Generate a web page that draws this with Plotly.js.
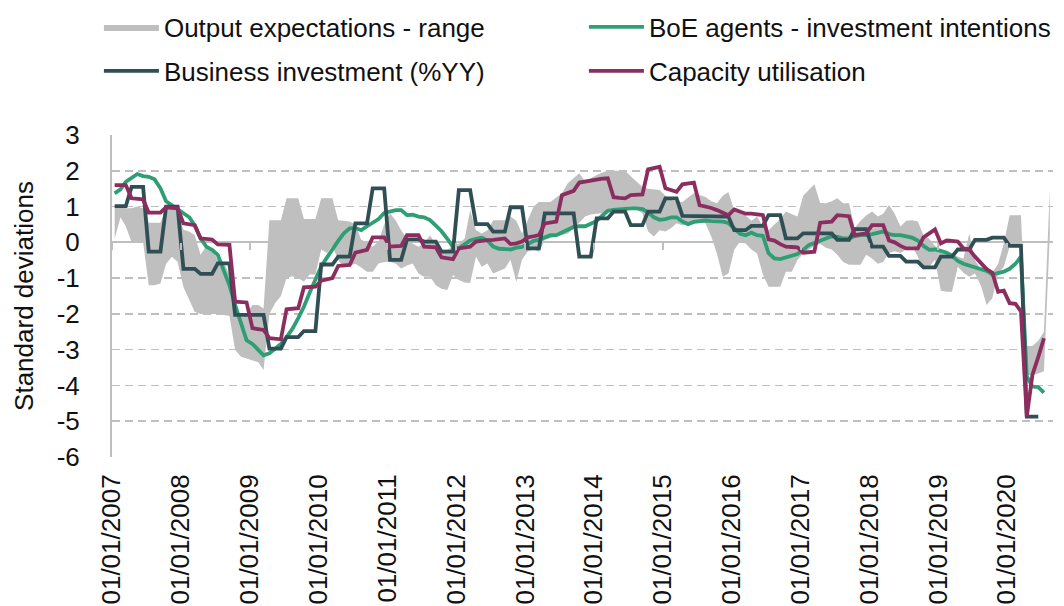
<!DOCTYPE html>
<html><head><meta charset="utf-8">
<script src="https://cdn.plot.ly/plotly-3.0.1.min.js"></script>
<style>html,body{margin:0;padding:0;background:#fff;} #chart{width:1064px;height:606px;}</style>
</head><body><div id="chart"></div>
<script>
// Monthly data, first value = January 2007
const startYear = 2007;
const seriesNames = ["Output expectations - range", "BoE agents - investment intentions", "Business investment (%YY)", "Capacity utilisation"];
const yTickValues = [3,2,1,0,-1,-2,-3,-4,-5,-6];

const rangeUpper = [
0.95,1.0,0.95,0.95,1.0,0.95,0.55,0.55,0.55,0.95,0.95,0.9,
0.35,0.3,0.2,-0.35,-0.1,-0.2,-0.5,-0.55,-0.9,-1.8,-2.1,-2.0,
-1.75,-1.75,-1.85,0.62,0.62,0.62,1.23,1.23,1.23,0.65,0.65,0.65,
1.23,1.23,1.23,0.62,0.6,0.58,0.5,0.07,0.0,-0.12,0.02,0.5,
0.81,0.6,0.34,0.1,-0.03,-0.12,-0.03,0.2,-0.07,-0.21,-0.21,-0.1,
-0.03,0.11,0.9,0.34,0.25,0.34,0.62,0.62,0.62,0.72,0.6,0.25,
0.62,1.0,1.13,1.13,1.13,1.25,1.37,1.65,1.8,1.93,1.7,1.8,
1.88,1.95,2.0,2.0,2.0,2.0,1.85,1.69,1.55,1.5,1.48,1.46,
1.3,1.18,1.15,1.13,1.25,1.37,1.32,1.27,1.15,1.09,1.3,1.41,
0.9,0.81,0.75,0.6,0.72,0.45,0.34,0.5,0.65,0.86,0.8,0.72,
1.3,1.46,1.62,1.1,1.09,1.15,1.23,1.09,1.09,0.4,0.6,0.75,
0.86,0.72,0.8,1.04,0.8,0.44,0.6,0.62,0.58,0.2,0.1,-0.1,
-0.2,-0.25,-0.3,-0.4,-0.45,0.25,-0.5,-0.75,-0.8,-0.85,-0.6,-0.03,
0.76,0.76,0.76,-2.9,-2.9,-2.75,-2.5,1.46];

const rangeLower = [
0.1,0.7,0.45,0.0,0.0,0.0,-1.2,-1.2,-1.15,-0.6,-0.4,-0.55,
-1.25,-1.6,-1.95,-2.0,-2.0,-2.0,-2.0,-2.03,-2.05,-3.0,-3.2,-3.25,
-3.3,-3.35,-3.57,-2.0,-1.7,-1.5,-1.0,-0.95,-1.0,-1.1,-0.9,-0.9,
-0.2,-0.3,-0.1,-0.5,-0.7,-0.65,-0.6,-0.7,-0.82,-0.82,-0.59,-0.55,
-0.54,-0.6,-0.73,-0.65,-0.59,-0.87,-0.96,-0.96,-1.2,-1.3,-1.33,-0.91,
-1.05,-1.12,-1.14,-0.4,-0.68,-0.59,-0.87,-0.8,-0.73,-0.49,-1.1,-0.49,
-0.25,-0.21,-0.26,0.07,0.12,0.16,0.2,0.25,0.39,0.55,0.72,0.78,
0.8,0.81,0.85,0.9,0.95,0.98,1.0,0.9,0.81,0.3,0.16,0.34,
0.3,0.4,0.53,0.48,0.52,0.58,0.55,0.53,0.16,-0.31,-0.96,-0.87,
-0.21,0.02,-0.03,-0.2,-0.31,-0.9,-1.24,-1.24,-1.24,-0.82,-0.82,-0.5,
-0.31,-0.2,-0.1,-0.05,-0.15,-0.2,-0.35,-0.55,-0.63,-0.63,-0.63,-0.35,
-0.45,-0.6,-0.55,-0.3,-0.25,-0.3,-0.21,-0.1,-0.4,-0.77,-0.68,-0.49,
-1.35,-1.38,-1.38,-0.68,-0.85,-0.96,-0.87,-1.2,-1.75,-1.56,-0.87,-0.68,
-0.12,-0.12,-0.12,-3.7,-3.72,-3.66,-3.6,0.2];

const boeAgents = [
1.37,1.48,1.69,1.79,1.91,1.85,1.83,1.76,1.51,1.15,1.03,0.92,
0.8,0.7,0.47,0.11,-0.12,-0.21,-0.35,-0.75,-1.2,-1.75,-2.26,-2.74,
-2.84,-3.02,-3.16,-3.1,-2.98,-2.84,-2.65,-2.42,-2.12,-1.8,-1.4,-1.05,
-0.67,-0.42,-0.19,0.04,0.25,0.39,0.4,0.34,0.45,0.55,0.65,0.82,
0.87,0.9,0.9,0.76,0.77,0.72,0.7,0.62,0.47,0.31,0.1,-0.13,
-0.17,-0.07,0.05,0.1,0.13,0.05,-0.12,-0.18,-0.2,-0.2,-0.15,-0.13,
-0.05,0.04,0.07,0.15,0.2,0.2,0.28,0.36,0.43,0.45,0.45,0.52,
0.6,0.75,0.88,0.91,0.93,0.95,0.95,0.95,0.93,0.84,0.7,0.63,
0.65,0.7,0.7,0.58,0.51,0.57,0.6,0.61,0.59,0.58,0.58,0.54,
0.4,0.24,0.2,0.27,0.2,0.18,-0.3,-0.45,-0.47,-0.42,-0.39,-0.33,
-0.21,-0.07,-0.02,0.05,0.12,0.17,0.15,0.11,0.11,0.17,0.2,0.2,
0.23,0.27,0.3,0.23,0.2,0.2,0.17,0.13,0.05,-0.1,-0.21,-0.2,
-0.24,-0.29,-0.38,-0.52,-0.6,-0.65,-0.7,-0.74,-0.8,-0.9,-0.85,-0.82,
-0.74,-0.6,-0.4,-3.75,-4.03,-4.05,-4.2];

const businessInvestment = [
1.01,1.01,1.01,1.55,1.55,1.55,-0.26,-0.26,-0.26,1.0,1.0,1.0,
-0.74,-0.74,-0.74,-0.88,-0.88,-0.88,-0.59,-0.59,-0.59,-2.03,-2.03,-2.03,
-2.03,-2.03,-2.03,-2.97,-2.97,-2.97,-2.65,-2.65,-2.65,-2.48,-2.48,-2.48,
-0.62,-0.62,-0.62,-0.4,-0.4,-0.4,0.53,0.53,0.53,1.51,1.51,1.51,
-0.49,-0.49,-0.49,0.08,0.08,0.08,0.02,0.02,0.02,-0.26,-0.26,-0.26,
1.46,1.46,1.46,0.51,0.51,0.51,0.3,0.3,0.3,0.98,0.98,0.98,
-0.17,-0.17,-0.17,0.81,0.81,0.81,0.81,0.81,0.81,-0.4,-0.4,-0.4,
0.67,0.67,0.67,0.86,0.86,0.86,0.48,0.48,0.48,0.86,0.86,0.86,
1.23,1.23,1.23,0.74,0.74,0.74,0.73,0.73,0.73,0.72,0.72,0.72,
0.34,0.34,0.34,0.46,0.46,0.46,0.76,0.76,0.76,0.11,0.11,0.11,
0.25,0.25,0.25,0.25,0.25,0.25,0.07,0.07,0.07,0.37,0.37,0.37,
-0.12,-0.12,-0.12,-0.38,-0.38,-0.38,-0.54,-0.54,-0.54,-0.7,-0.7,-0.7,
-0.4,-0.4,-0.4,-0.2,-0.2,-0.2,0.07,0.07,0.07,0.13,0.13,0.13,
-0.1,-0.1,-0.1,-4.87,-4.87,-4.87];

const capacityUtilisation = [
1.6,1.6,1.6,1.23,1.22,1.2,0.83,0.83,0.83,0.98,0.97,0.95,
0.53,0.5,0.48,0.11,0.1,0.08,-0.06,-0.06,-0.07,-1.66,-1.67,-1.68,
-2.4,-2.43,-2.45,-2.68,-2.7,-2.71,-1.87,-1.85,-1.84,-1.26,-1.25,-1.24,
-1.07,-1.03,-1.0,-0.66,-0.65,-0.63,-0.29,-0.25,-0.21,0.14,0.14,0.14,
-0.12,-0.11,-0.1,0.2,0.2,0.2,-0.12,-0.13,-0.14,-0.42,-0.45,-0.47,
-0.17,-0.15,-0.12,0.02,0.05,0.06,0.07,0.1,0.11,-0.05,-0.03,0.02,
0.14,0.17,0.2,0.53,0.55,0.58,1.32,1.38,1.44,1.67,1.7,1.74,
1.76,1.78,1.79,1.26,1.24,1.23,1.32,1.33,1.34,2.04,2.08,2.11,
1.51,1.45,1.41,1.62,1.65,1.67,1.04,1.01,0.96,0.9,0.83,0.76,
0.92,0.85,0.8,0.8,0.78,0.76,0.08,0.05,-0.05,-0.12,-0.13,-0.14,
-0.29,-0.27,-0.26,0.55,0.56,0.58,0.76,0.75,0.73,0.2,0.22,0.25,
0.48,0.48,0.48,0.05,0.0,-0.1,-0.17,-0.17,-0.17,0.14,0.25,0.36,
-0.03,0.05,0.04,0.02,-0.17,-0.2,-0.4,-0.59,-0.75,-0.85,-1.38,-1.35,
-1.7,-1.72,-1.93,-4.87,-3.7,-3.2,-2.68];

const colors = {band:"#BFBFBF", boe:"#2E9E74", bi:"#2F4F55", cu:"#8C2D5F", grid:"#BFBFBF", text:"#111111"};

function monthDates(n){
  const out=[];
  for(let i=0;i<n;i++){
    const y=startYear+Math.floor(i/12), m=i%12+1;
    out.push(y+"-"+String(m).padStart(2,"0")+"-15");
  }
  return out;
}

const bandDates = monthDates(rangeUpper.length);
const bandTrace = {
  x: bandDates.concat(bandDates.slice().reverse()),
  y: rangeUpper.concat(rangeLower.slice().reverse()),
  type:"scatter", mode:"lines", fill:"toself", fillcolor:colors.band,
  line:{width:0, color:colors.band}, name:seriesNames[0], hoverinfo:"skip", legend:"legend"
};
function lineTrace(vals, name, color, legend, xax){
  const t = {x:monthDates(vals.length), y:vals, type:"scatter", mode:"lines", name:name,
    line:{color:color, width:3.8}, legend:legend};
  if (xax) t.xaxis = xax;
  return t;
}
const data = [
  bandTrace,
  lineTrace(boeAgents, seriesNames[1], colors.boe, "legend"),
  lineTrace(businessInvestment, seriesNames[2], colors.bi, "legend2"),
  lineTrace(capacityUtilisation, seriesNames[3], colors.cu, "legend2", "x2")
];

const font = {family:"Liberation Sans, Arial, sans-serif", size:26, color:colors.text};
const xRange = ["2007-01-01","2020-09-01"];
const legendX = -0.0139;
const layout = {
  width:1064, height:606,
  margin:{l:112, r:11, t:135, b:149, autoexpand:false},
  paper_bgcolor:"#fff", plot_bgcolor:"#fff",
  font:font,
  showlegend:true,
  xaxis:{type:"date", range:xRange, dtick:"M12", tick0:"2007-01-01", tickformat:"%d/%m/%Y",
    tickangle:-90, tickfont:font, showgrid:false, zeroline:false, showline:false,
    ticks:"outside", ticklen:6, tickcolor:"rgba(0,0,0,0)"},
  xaxis2:{type:"date", range:xRange, overlaying:"x", anchor:"free", position:6/9,
    dtick:"M12", tick0:"2007-01-01", showticklabels:false, showgrid:false, zeroline:false,
    showline:false, ticks:"outside", ticklen:7, tickwidth:2, tickcolor:colors.grid},
  yaxis:{range:[-6,3], tickmode:"array", tickvals:yTickValues, ticktext:yTickValues.map(v=>String(v)),
    tickfont:font, showgrid:true, gridcolor:colors.grid,
    griddash:"8px,5px", gridwidth:1.5, zeroline:true, zerolinecolor:colors.grid, zerolinewidth:2,
    showline:true, linecolor:colors.grid, linewidth:2, ticks:"outside", ticklen:25,
    tickcolor:"rgba(0,0,0,0)", title:{text:"Standard deviations", font:font, standoff:16}},
  legend:{orientation:"h", x:legendX, xanchor:"left", y:(457-27)/322, yanchor:"middle",
    font:font, entrywidth:415, itemwidth:55, bgcolor:"rgba(0,0,0,0)"},
  legend2:{orientation:"h", x:legendX, xanchor:"left", y:(457-71)/322, yanchor:"middle",
    font:font, entrywidth:415, itemwidth:55, bgcolor:"rgba(0,0,0,0)"}
};
Plotly.newPlot("chart", data, layout, {displayModeBar:false, staticPlot:true});
</script></body></html>
